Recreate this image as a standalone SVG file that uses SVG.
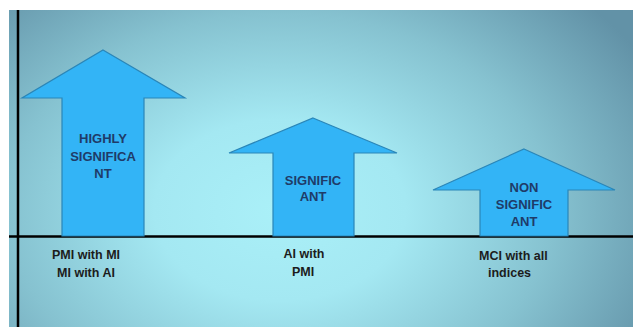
<svg xmlns="http://www.w3.org/2000/svg" width="633" height="327" viewBox="0 0 633 327">
<defs>
<radialGradient id="bg" gradientUnits="userSpaceOnUse" cx="280" cy="210" r="420" gradientTransform="translate(280 210) scale(1 0.72) translate(-280 -210)">
<stop offset="0" stop-color="#aaf0f8"/>
<stop offset="0.3" stop-color="#a4e8f2"/>
<stop offset="0.65" stop-color="#86c2d0"/>
<stop offset="1" stop-color="#6292a7"/>
</radialGradient>
<style>
.arrow{fill:#33b4f6;stroke:#2a86b8;stroke-width:1.2}
.in{font-family:"Liberation Sans",Arial,sans-serif;font-weight:bold;font-size:13px;fill:#1f3b68;text-anchor:middle}
.lb{font-family:"Liberation Sans",Arial,sans-serif;font-weight:bold;font-size:12.5px;fill:#1c1c1c}
.axis{stroke:#000;stroke-width:2.5}
</style>
</defs>
<rect x="0" y="0" width="633" height="327" fill="#ffffff"/>
<rect x="9" y="10" width="624" height="317" fill="url(#bg)"/>
<g id="axes">
<line class="axis" x1="18" y1="10" x2="18" y2="327"/>
<line class="axis" x1="9" y1="236.5" x2="633" y2="236.5"/>
</g>
<g id="arrow-highly">
<polygon class="arrow" points="103,50 185,98 144,98 144,236 62,236 62,98 22,98"/>
<text class="in" x="103" y="143">HIGHLY</text>
<text class="in" x="103" y="161">SIGNIFICA</text>
<text class="in" x="103" y="178">NT</text>
</g>
<g id="arrow-signif">
<polygon class="arrow" points="313,118 397,153 354,153 354,236 273,236 273,153 229,153"/>
<text class="in" x="313" y="185">SIGNIFIC</text>
<text class="in" x="313" y="201">ANT</text>
</g>
<g id="arrow-non">
<polygon class="arrow" points="524,149 615,190 568,190 568,236 480,236 480,190 433,190"/>
<text class="in" x="524" y="192">NON</text>
<text class="in" x="524" y="209">SIGNIFIC</text>
<text class="in" x="524" y="226">ANT</text>
</g>
<g id="labels">
<text class="lb" x="86" y="259" text-anchor="middle">PMI with MI</text>
<text class="lb" x="86" y="277" text-anchor="middle">MI with AI</text>
<text class="lb" x="304" y="258" text-anchor="middle">AI with</text>
<text class="lb" x="303" y="276" text-anchor="middle">PMI</text>
<text class="lb" x="479" y="260">MCI with all</text>
<text class="lb" x="488" y="277">indices</text>
</g>
</svg>
